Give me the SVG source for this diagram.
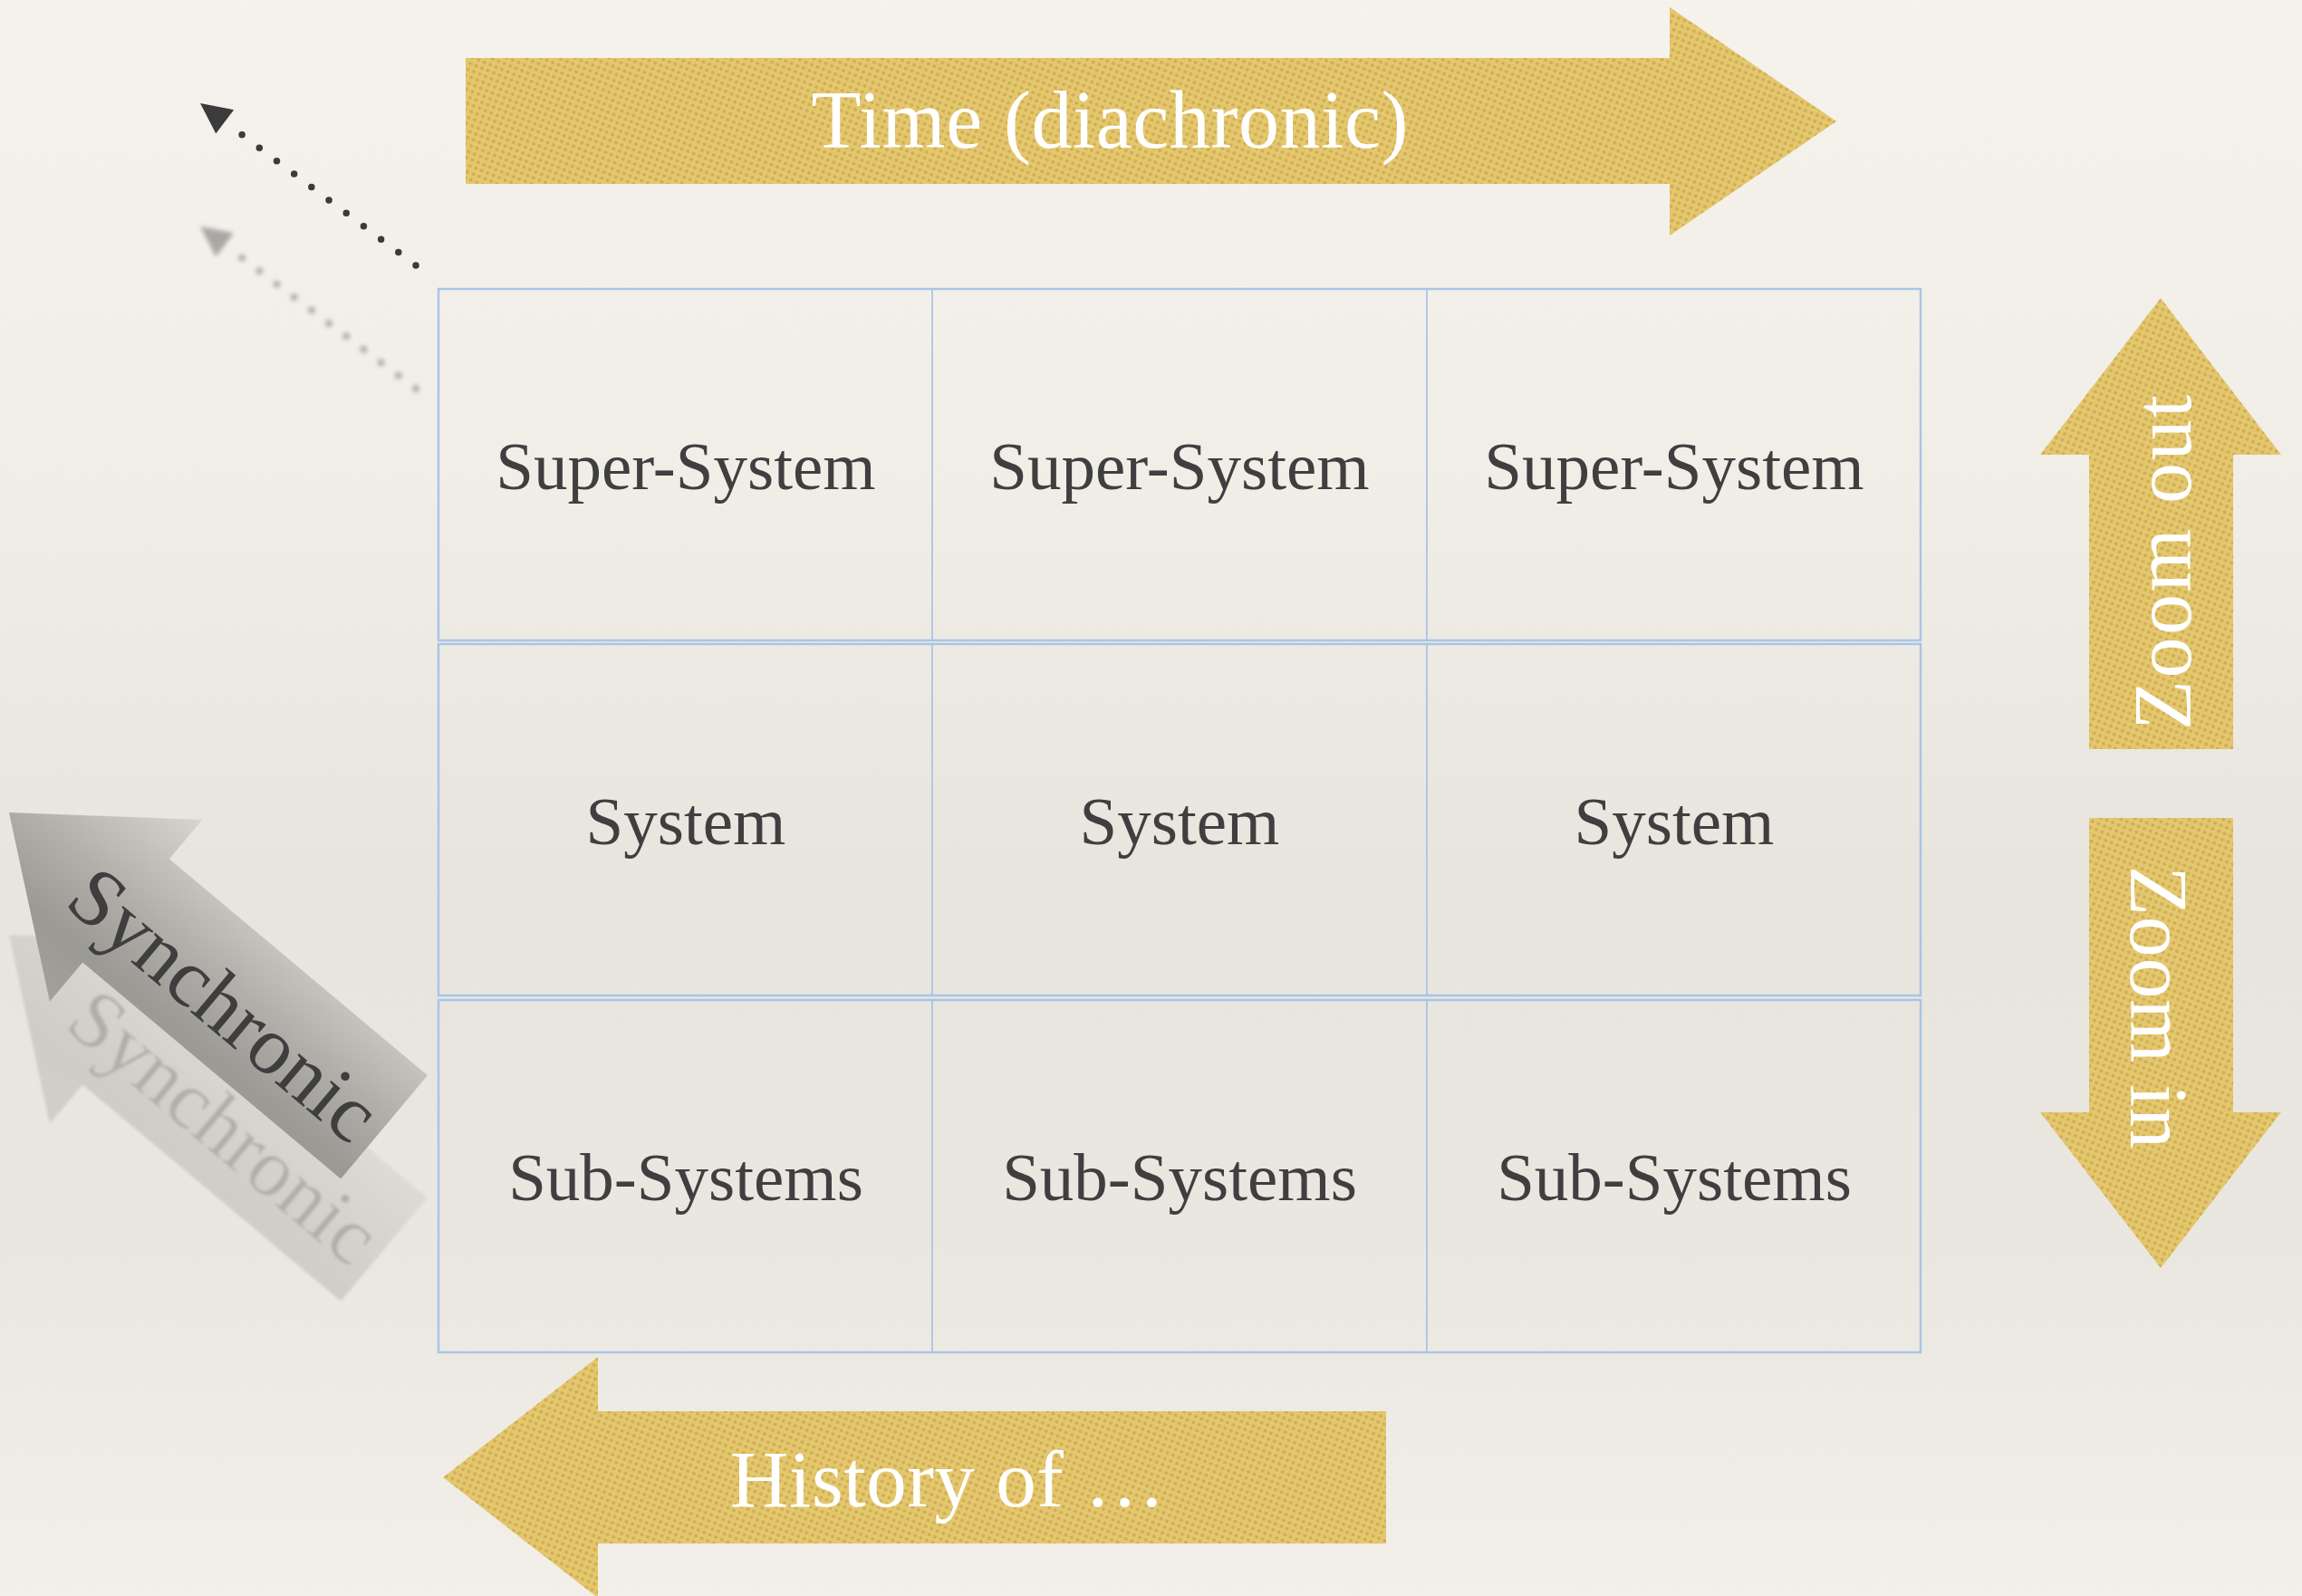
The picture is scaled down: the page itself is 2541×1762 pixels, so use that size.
<svg xmlns="http://www.w3.org/2000/svg" xmlns:xlink="http://www.w3.org/1999/xlink" width="2541" height="1762" viewBox="0 0 2541 1762">
  <style>
    .cell { fill: none; stroke: #a9c5e5; stroke-width: 2.5; }
    .divider { stroke: #a9c5e5; stroke-width: 1.8; }
    .cell-label { font-family: "Liberation Serif", "DejaVu Serif", serif; font-size: 75px; fill: #3f3f3f; text-anchor: middle; }
    .gold { fill: url(#goldDots); }
    .gold-label { font-family: "Liberation Serif", "DejaVu Serif", serif; fill: #ffffff; text-anchor: middle; }
    .syn-label { font-family: "Liberation Serif", "DejaVu Serif", serif; font-size: 91px; fill: #3e3e3e; text-anchor: middle; }
    .dots { fill: none; stroke: #3b3b3b; stroke-width: 7.5; stroke-linecap: round; stroke-dasharray: 0 24; }
  </style>
  <defs>
    <linearGradient id="paper" x1="0" y1="0" x2="0" y2="1">
      <stop offset="0" stop-color="#f7f4ee"/>
      <stop offset="0.3" stop-color="#f2efe9"/>
      <stop offset="0.55" stop-color="#e9e6e0"/>
      <stop offset="0.78" stop-color="#ebe8e2"/>
      <stop offset="1" stop-color="#f4f1ea"/>
    </linearGradient>
    <filter id="grain" x="0" y="0" width="100%" height="100%">
      <feTurbulence type="fractalNoise" baseFrequency="0.9" numOctaves="2" seed="4" result="n"/>
      <feColorMatrix in="n" type="matrix" values="0 0 0 0 0.50  0 0 0 0 0.47  0 0 0 0 0.42  0 0 0 0.05 0"/>
    </filter>
    <pattern id="goldDots" width="7" height="7" patternUnits="userSpaceOnUse" patternTransform="rotate(22)">
      <rect width="7" height="7" fill="#e5c86e"/>
      <circle cx="3.5" cy="3.5" r="2.1" fill="#cfae58"/>
    </pattern>
    <linearGradient id="synFill" gradientUnits="userSpaceOnUse" x1="0" y1="-131" x2="0" y2="131">
      <stop offset="0" stop-color="#d8d5d0"/>
      <stop offset="0.45" stop-color="#b2afaa"/>
      <stop offset="0.75" stop-color="#9b9994"/>
      <stop offset="1" stop-color="#a3a19c"/>
    </linearGradient>
    <filter id="softBlur" x="-20%" y="-20%" width="140%" height="140%">
      <feGaussianBlur stdDeviation="1.5"/>
    </filter>
    <filter id="dotBlur" x="-20%" y="-20%" width="140%" height="140%">
      <feGaussianBlur stdDeviation="2.5"/>
    </filter>
    <!-- tilted "Synchronic" arrow, tip at the local origin -->
    <g id="synShape">
      <path d="M0,0 L168.5,-131 L168.5,-74.5 L540.5,-74.5 L540.5,74.5 L168.5,74.5 L168.5,131 Z" fill="url(#synFill)"/>
      <text class="syn-label" x="318" y="40">Synchronic</text>
    </g>
    <!-- dotted pointer -->
    <g id="dotPointer">
      <path class="dots" d="M459,293 L262,145"/>
      <polygon points="221,114 258.1,121.2 238.3,147.6" fill="#3b3b3b"/>
    </g>
  </defs>

  <!-- paper background -->
  <rect width="2541" height="1762" fill="url(#paper)"/>
  <rect width="2541" height="1762" filter="url(#grain)"/>

  <!-- faded copy below the tilted arrow -->
  <g id="synchronic-shadow" opacity="0.32" filter="url(#softBlur)">
    <use xlink:href="#synShape" transform="translate(10,1032) rotate(40)"/>
  </g>

  <!-- grid of system levels -->
  <g id="row-super">
    <rect class="cell" x="484" y="319" width="1636" height="388"/>
    <line class="divider" x1="1029" y1="319" x2="1029" y2="707"/>
    <line class="divider" x1="1575" y1="319" x2="1575" y2="707"/>
    <g id="cell-super-1"><text class="cell-label" x="757" y="540">Super-System</text></g>
    <g id="cell-super-2"><text class="cell-label" x="1302" y="540">Super-System</text></g>
    <g id="cell-super-3"><text class="cell-label" x="1848" y="540">Super-System</text></g>
  </g>
  <g id="row-system">
    <rect class="cell" x="484" y="711" width="1636" height="388"/>
    <line class="divider" x1="1029" y1="711" x2="1029" y2="1099"/>
    <line class="divider" x1="1575" y1="711" x2="1575" y2="1099"/>
    <g id="cell-system-1"><text class="cell-label" x="757" y="932">System</text></g>
    <g id="cell-system-2"><text class="cell-label" x="1302" y="932">System</text></g>
    <g id="cell-system-3"><text class="cell-label" x="1848" y="932">System</text></g>
  </g>
  <g id="row-sub">
    <rect class="cell" x="484" y="1104" width="1636" height="389"/>
    <line class="divider" x1="1029" y1="1104" x2="1029" y2="1493"/>
    <line class="divider" x1="1575" y1="1104" x2="1575" y2="1493"/>
    <g id="cell-sub-1"><text class="cell-label" x="757" y="1325">Sub-Systems</text></g>
    <g id="cell-sub-2"><text class="cell-label" x="1302" y="1325">Sub-Systems</text></g>
    <g id="cell-sub-3"><text class="cell-label" x="1848" y="1325">Sub-Systems</text></g>
  </g>

  <!-- gold direction arrows -->
  <g id="arrow-time">
    <polygon class="gold" points="514,64 1843,64 1843,8 2027,134 1843,260 1843,203 514,203"/>
    <text class="gold-label" x="1225" y="163" font-size="90" textLength="659">Time (diachronic)</text>
  </g>
  <g id="arrow-history">
    <polygon class="gold" points="1530,1558 660,1558 660,1498 489,1631 660,1764 660,1704 1530,1704"/>
    <text class="gold-label" x="1046" y="1663" font-size="89" textLength="480">History of …</text>
  </g>
  <g id="arrow-zoom-out">
    <polygon class="gold" points="2385,329 2518,502 2465,502 2465,827 2306,827 2306,502 2252,502"/>
    <text class="gold-label" font-size="90" textLength="370" transform="translate(2418,621) rotate(-90)">Zoom out</text>
  </g>
  <g id="arrow-zoom-in">
    <polygon class="gold" points="2306,903 2465,903 2465,1228 2518,1228 2385,1400 2252,1228 2306,1228"/>
    <text class="gold-label" font-size="90" textLength="312" transform="translate(2352,1112) rotate(90)">Zoom in</text>
  </g>

  <g id="arrow-synchronic">
    <use xlink:href="#synShape" transform="translate(10,897) rotate(40)"/>
  </g>

  <!-- dotted pointer and its faded copy -->
  <g id="connectors">
    <g opacity="0.4" filter="url(#dotBlur)">
      <use xlink:href="#dotPointer" transform="translate(0,136)"/>
    </g>
    <use xlink:href="#dotPointer"/>
  </g>
</svg>
